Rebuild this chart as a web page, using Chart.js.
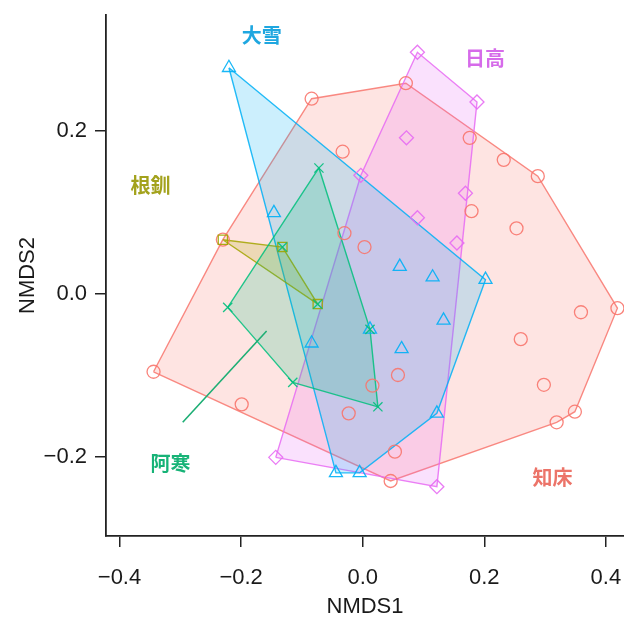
<!DOCTYPE html>
<html>
<head>
<meta charset="utf-8">
<script src="https://cdn.jsdelivr.net/npm/chart.js@4.4.1/dist/chart.umd.min.js"></script>
<style>
  html, body { margin: 0; padding: 0; background: #fff; }
  #wrap { width: 624px; height: 622px; }
</style>
</head>
<body>
<div id="wrap"><canvas id="c" width="624" height="622"></canvas></div>
<script>
// NMDS site scores, one pair of arrays per region
const shiretokoX = [-0.084, 0.071, 0.176, 0.232, 0.288, 0.419, 0.359, 0.260, 0.253, 0.179, 0.298, 0.319, 0.349, 0.046, 0.053, 0.058, 0.016, -0.023, -0.199, -0.344, -0.033, 0.003, -0.030, -0.230];
const shiretokoY = [0.239, 0.258, 0.191, 0.164, 0.144, -0.018, -0.023, -0.056, 0.080, 0.101, -0.112, -0.158, -0.145, -0.230, -0.194, -0.100, -0.113, -0.147, -0.136, -0.096, 0.174, 0.057, 0.074, 0.066];

const hidakaX = [0.090, 0.188, 0.072, 0.169, 0.090, 0.155, -0.003, -0.143, 0.122];
const hidakaY = [0.296, 0.235, 0.191, 0.123, 0.093, 0.062, 0.145, -0.201, -0.237];

const taisetsuX = [-0.220, -0.146, 0.202, 0.115, 0.061, 0.133, 0.064, 0.012, -0.084, 0.122, -0.044, -0.005];
const taisetsuY = [0.277, 0.099, 0.017, 0.020, 0.033, -0.033, -0.068, -0.044, -0.061, -0.147, -0.220, -0.220];

const konsenX = [-0.230, -0.132, -0.074];
const konsenY = [0.066, 0.057, -0.013];

const akanX = [-0.072, -0.222, -0.115, 0.025, 0.012, -0.132, -0.074];
const akanY = [0.154, -0.017, -0.109, -0.139, -0.044, 0.057, -0.013];

const xTicks = [-0.4, -0.2, 0.0, 0.2, 0.4];
const yTicks = [-0.2, 0.0, 0.2];

// region name labels, placed in data units
const regionLabels = [
  { text: '大雪', x: -0.166, y: 0.317, color: '#1FA7E0' },
  { text: '日高', x: 0.201, y: 0.289, color: '#D66BEA' },
  { text: '根釧', x: -0.349, y: 0.133, color: '#A3A21C' },
  { text: '阿寒', x: -0.316, y: -0.208, color: '#17B377' },
  { text: '知床', x: 0.312, y: -0.226, color: '#EC7469' }
];
const akanLeader = [{ x: -0.296, y: -0.158 }, { x: -0.158, y: -0.046 }];

function toPoints(xs, ys) {
  return xs.map((x, i) => ({ x: x, y: ys[i] }));
}

// convex hull (monotone chain), closed back to its first vertex
function hull(pts) {
  const p = pts.slice().sort((a, b) => a.x - b.x || a.y - b.y);
  const cross = (o, a, b) => (a.x - o.x) * (b.y - o.y) - (a.y - o.y) * (b.x - o.x);
  const lower = [];
  for (const q of p) {
    while (lower.length >= 2 && cross(lower[lower.length - 2], lower[lower.length - 1], q) <= 0) lower.pop();
    lower.push(q);
  }
  const upper = [];
  for (let i = p.length - 1; i >= 0; i--) {
    const q = p[i];
    while (upper.length >= 2 && cross(upper[upper.length - 2], upper[upper.length - 1], q) <= 0) upper.pop();
    upper.push(q);
  }
  upper.pop(); lower.pop();
  const h = lower.concat(upper);
  h.push(h[0]);
  return h;
}

function rgba(hex, a) {
  const n = parseInt(hex.slice(1), 16);
  return `rgba(${(n >> 16) & 255},${(n >> 8) & 255},${n & 255},${a})`;
}

const groups = [
  { name: '知床', pts: toPoints(shiretokoX, shiretokoY), color: '#F8766D', style: 'circle', r: 6.5 },
  { name: '日高', pts: toPoints(hidakaX, hidakaY), color: '#E76BF3', style: 'rectRot', r: 7 },
  { name: '大雪', pts: toPoints(taisetsuX, taisetsuY), color: '#00B0F6', style: 'triangle', r: 7.5 },
  { name: '根釧', pts: toPoints(konsenX, konsenY), color: '#A3A500', style: 'rect', r: 6.5 },
  { name: '阿寒', pts: toPoints(akanX, akanY), color: '#00BF7D', style: 'crossRot', r: 6.5 }
];

const datasets = [];
groups.forEach((g, i) => {
  datasets.push({
    type: 'line',
    label: g.name + ' hull',
    data: hull(g.pts),
    borderColor: rgba(g.color, 0.85),
    borderWidth: 1.4,
    backgroundColor: rgba(g.color, 0.2),
    fill: 'shape',
    pointRadius: 0,
    tension: 0,
    order: 20 - i
  });
});
groups.forEach((g, i) => {
  datasets.push({
    type: 'scatter',
    label: g.name,
    data: g.pts,
    pointStyle: g.style,
    pointRadius: g.r,
    pointBorderWidth: 1.3,
    pointBorderColor: rgba(g.color, 0.9),
    pointBackgroundColor: 'rgba(0,0,0,0)',
    showLine: false,
    order: 10 - i
  });
});
datasets.push({
  type: 'line',
  label: '阿寒 leader',
  data: akanLeader,
  borderColor: '#1DAE74',
  borderWidth: 1.6,
  pointRadius: 0,
  fill: false,
  order: 0
});

const fmt = v => {
  const s = Math.abs(v).toFixed(1);
  return v < -1e-9 ? '\u2212' + s : s;
};

const labelPlugin = {
  id: 'regionLabels',
  afterDatasetsDraw(chart) {
    const { ctx, scales: { x, y } } = chart;
    ctx.save();
    ctx.font = 'bold 20px "Noto Sans CJK JP"';
    ctx.textAlign = 'center';
    ctx.textBaseline = 'middle';
    regionLabels.forEach(l => {
      ctx.fillStyle = l.color;
      ctx.fillText(l.text, x.getPixelForValue(l.x), y.getPixelForValue(l.y));
    });
    ctx.restore();
  }
};

const axisFont = { family: '"Liberation Sans", Arial, sans-serif', size: 22 };

new Chart(document.getElementById('c'), {
  type: 'scatter',
  data: { datasets },
  plugins: [labelPlugin],
  options: {
    responsive: false,
    animation: false,
    layout: { autoPadding: false, padding: { top: 15, right: 0, left: 0, bottom: 0 } },
    plugins: { legend: { display: false }, tooltip: { enabled: false } },
    scales: {
      x: {
        type: 'linear',
        min: -0.4222,
        max: 0.4298,
        afterBuildTicks: s => { s.ticks = xTicks.map(v => ({ value: v })); },
        afterFit: s => { s.height = 86; s.paddingLeft = 0; s.paddingRight = 0; },
        ticks: { callback: v => fmt(v), font: axisFont, color: '#1a1a1a', padding: 18, maxRotation: 0 },
        grid: { drawOnChartArea: false, drawTicks: true, tickLength: 11, color: '#222', lineWidth: 1.5 },
        border: { display: true, color: '#222', width: 1.8 },
        title: { display: true, text: 'NMDS1', font: axisFont, color: '#1a1a1a', padding: { top: 0, bottom: 2 } }
      },
      y: {
        type: 'linear',
        min: -0.2975,
        max: 0.3417,
        afterBuildTicks: s => { s.ticks = yTicks.map(v => ({ value: v })); },
        afterFit: s => { s.width = 106; s.paddingTop = 0; s.paddingBottom = 0; },
        ticks: { callback: v => fmt(v), font: axisFont, color: '#1a1a1a', padding: 8 },
        grid: { drawOnChartArea: false, drawTicks: true, tickLength: 11, color: '#222', lineWidth: 1.5 },
        border: { display: true, color: '#222', width: 1.8 },
        title: { display: true, text: 'NMDS2', font: axisFont, color: '#1a1a1a', padding: { top: 15, bottom: 0 } }
      }
    }
  }
});
</script>
</body>
</html>
